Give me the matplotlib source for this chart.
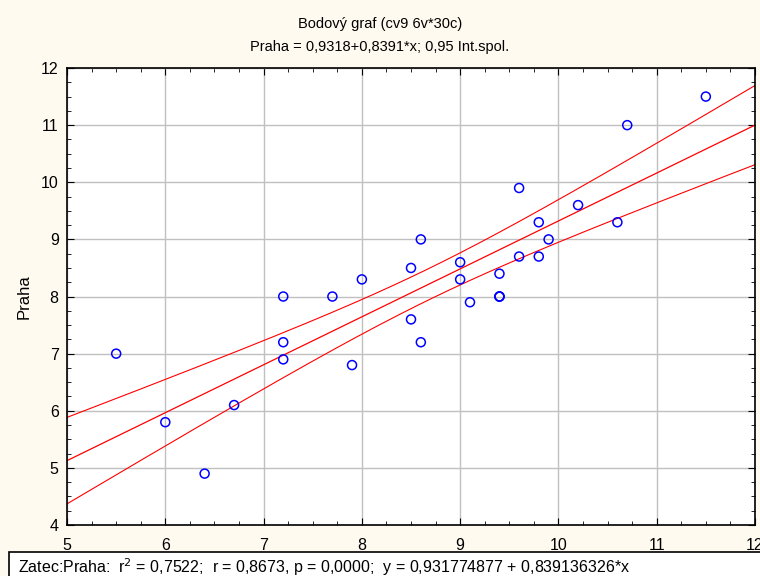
import numpy as np
import matplotlib.pyplot as plt
from matplotlib.ticker import MultipleLocator
from matplotlib.patches import Rectangle

plt.rcParams['font.family'] = ['Liberation Sans', 'DejaVu Sans']

# Zatec (x) vs Praha (y), 30 cases, (9.4, 8.0) occurs twice
zatec = [5.5, 6.0, 6.4, 6.7, 7.2, 7.2, 7.2, 7.7, 7.9, 8.0,
         8.5, 8.5, 8.6, 8.6, 9.0, 9.0, 9.1, 9.4, 9.4, 9.4,
         9.6, 9.6, 9.8, 9.8, 9.9, 10.2, 10.6, 10.7, 11.5]
praha = [7.0, 5.8, 4.9, 6.1, 8.0, 7.2, 6.9, 8.0, 6.8, 8.3,
         8.5, 7.6, 9.0, 7.2, 8.6, 8.3, 7.9, 8.4, 8.0, 8.0,
         9.9, 8.7, 9.3, 8.7, 9.0, 9.6, 9.3, 11.0, 11.5]
zatec = zatec + [9.4]
praha = praha + [8.0]

a0, b1 = 0.9318, 0.8391

x = np.array(zatec)
y = np.array(praha)
n = len(x)
resid = y - (a0 + b1 * x)
s = np.sqrt(np.sum(resid ** 2) / (n - 2))
sxx = np.sum((x - x.mean()) ** 2)
t = 2.048  # t(0.975, 28)

xs = np.linspace(5, 12, 200)
fit = a0 + b1 * xs
half = t * s * np.sqrt(1 / n + (xs - x.mean()) ** 2 / sxx)

fig = plt.figure(figsize=(7.6, 5.76), dpi=100, facecolor='#fffaf0')
ax = fig.add_axes([0.0882, 0.0885, 0.9052, 0.7934])
ax.set_facecolor('white')

ax.plot(xs, fit, color='red', lw=0.9)
ax.plot(xs, fit + half, color='red', lw=0.8)
ax.plot(xs, fit - half, color='red', lw=0.8)
ax.scatter(x, y, s=42, facecolors='none', edgecolors='#0000ff', linewidths=1.1, zorder=3)

ax.set_xlim(5, 12)
ax.set_ylim(4, 12)
ax.xaxis.set_major_locator(MultipleLocator(1))
ax.yaxis.set_major_locator(MultipleLocator(1))
ax.xaxis.set_minor_locator(MultipleLocator(0.25))
ax.yaxis.set_minor_locator(MultipleLocator(0.25))
ax.tick_params(which='both', direction='in', top=True, right=True, labelsize=11.5)
ax.tick_params(which='major', length=5)
ax.tick_params(which='minor', length=3)
ax.tick_params(axis='x', which='major', pad=9)
ax.tick_params(axis='y', which='major', pad=6)
ax.grid(True, color='#c0c0c0', lw=1.0)
ax.set_axisbelow(True)
for sp in ax.spines.values():
    sp.set_linewidth(1.2)

ax.set_ylabel('Praha', fontsize=12, labelpad=7)

fig.text(0.5, 0.958, 'Bodový graf (cv9 6v*30c)', ha='center', va='center', fontsize=10.5)
fig.text(0.5, 0.918, 'Praha = 0,9318+0,8391*x; 0,95 Int.spol.', ha='center', va='center', fontsize=10.5)

# stats box along the bottom edge
fig.patches.append(Rectangle((9 / 760, -0.01), 1.0, 24.5 / 576 + 0.01, transform=fig.transFigure,
                             facecolor='white', edgecolor='black', lw=1.2))
fig.text(18 / 760, 3 / 576,
         'Zatec:Praha:  r$^2$ = 0,7522;  r = 0,8673, p = 0,0000;  y = 0,931774877 + 0,839136326*x',
         ha='left', va='baseline', fontsize=11.5)

fig.savefig('out.png', dpi=100, facecolor=fig.get_facecolor())
